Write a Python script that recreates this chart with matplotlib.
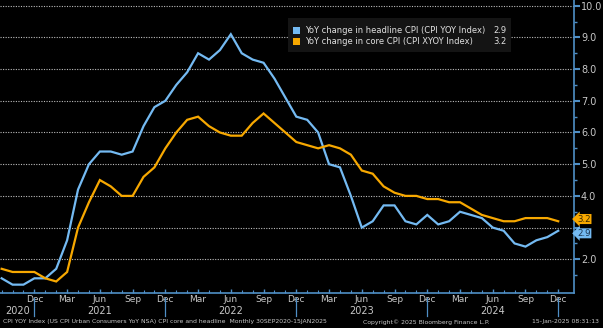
import matplotlib
matplotlib.use('Agg')
import matplotlib.pyplot as plt
import numpy as np
from matplotlib.patches import Rectangle

# monthly YoY CPI, Sep 2020 .. Dec 2024
months = ['Sep', 'Oct', 'Nov', 'Dec'] + ['Jan', 'Feb', 'Mar', 'Apr', 'May', 'Jun',
                                         'Jul', 'Aug', 'Sep', 'Oct', 'Nov', 'Dec'] * 4
headline = [1.4, 1.2, 1.2, 1.4,
            1.4, 1.7, 2.6, 4.2, 5.0, 5.4, 5.4, 5.3, 5.4, 6.2, 6.8, 7.0,
            7.5, 7.9, 8.5, 8.3, 8.6, 9.1, 8.5, 8.3, 8.2, 7.7, 7.1, 6.5,
            6.4, 6.0, 5.0, 4.9, 4.0, 3.0, 3.2, 3.7, 3.7, 3.2, 3.1, 3.4,
            3.1, 3.2, 3.5, 3.4, 3.3, 3.0, 2.9, 2.5, 2.4, 2.6, 2.7, 2.9]
core = [1.7, 1.6, 1.6, 1.6,
        1.4, 1.3, 1.6, 3.0, 3.8, 4.5, 4.3, 4.0, 4.0, 4.6, 4.9, 5.5,
        6.0, 6.4, 6.5, 6.2, 6.0, 5.9, 5.9, 6.3, 6.6, 6.3, 6.0, 5.7,
        5.6, 5.5, 5.6, 5.5, 5.3, 4.8, 4.7, 4.3, 4.1, 4.0, 4.0, 3.9,
        3.9, 3.8, 3.8, 3.6, 3.4, 3.3, 3.2, 3.2, 3.3, 3.3, 3.3, 3.2]
years = ['2020', '2021', '2022', '2023', '2024']
year_pos = [1.5, 9, 21, 33, 45]
labels = ['YoY change in headline CPI (CPI YOY Index)', 'YoY change in core CPI (CPI XYOY Index)']

blue = '#74baf2'
orange = '#f7a800'
axis_col = '#4f8fc6'
txt_col = '#c8c8c8'

x = np.arange(len(headline))

fig = plt.figure(figsize=(6.03, 3.28), dpi=100, facecolor='black')
ax = fig.add_axes([0.0, 0.108, 0.952, 0.892], facecolor='black')

ax.plot(x, headline, color=blue, lw=1.6, solid_joinstyle='miter')
ax.plot(x, core, color=orange, lw=1.6, solid_joinstyle='miter')

ax.set_xlim(-0.15, 52.45)
ax.set_ylim(0.95, 10.18)

# grid
for v in range(2, 11):
    ax.axhline(v, color='#bdbdbd', lw=0.8, ls=(0, (1, 1.3)), zorder=0)

# axes styling
for s in ['top', 'left']:
    ax.spines[s].set_visible(False)
ax.spines['right'].set_color(axis_col)
ax.spines['bottom'].set_color(axis_col)
ax.spines['right'].set_linewidth(1.2)
ax.spines['bottom'].set_linewidth(1.2)

ax.yaxis.tick_right()
ax.set_yticks(range(2, 11))
# 3.0 sits under the last-value tags, so leave it blank
ax.set_yticklabels(['' if v == 3 else f'{v:.1f}' for v in range(2, 11)])
ax.set_yticks(np.arange(1.5, 10.1, 0.5), minor=True)
ax.tick_params(axis='y', which='major', colors=axis_col, labelcolor=txt_col,
               length=4, width=1.5, labelsize=7, pad=1)
ax.tick_params(axis='y', which='minor', colors=axis_col, length=2, width=1)

qpos = [i for i, m in enumerate(months) if m in ('Dec', 'Mar', 'Jun', 'Sep') and i > 0]
ax.set_xticks(qpos)
ax.set_xticklabels([months[i] for i in qpos])
ax.set_xticks(x, minor=True)
ax.tick_params(axis='x', which='major', direction='in', colors=axis_col, labelcolor=txt_col,
               length=3, width=1, labelsize=6.5, pad=1.5)
ax.tick_params(axis='x', which='minor', direction='in', colors=axis_col, length=2, width=0.8)

# year row and separators
for yr, p in zip(years, year_pos):
    ax.text(p, -0.062, yr, transform=ax.get_xaxis_transform(), ha='center', va='center',
            color=txt_col, fontsize=7)
for i, m in enumerate(months):
    if m == 'Dec':
        ax.plot([i, i], [-0.02, -0.08], transform=ax.get_xaxis_transform(),
                color=axis_col, lw=0.9, clip_on=False)

# last value tags (nudged apart so they don't collide)
ax.text(52.75, core[-1] + 0.07, f'{core[-1]:.1f}', color='#3a2a00', fontsize=6.2, va='center',
        ha='left', bbox=dict(boxstyle='larrow,pad=0.06', fc=orange, ec='none'))
ax.text(52.75, headline[-1] - 0.08, f'{headline[-1]:.1f}', color='#1c3550', fontsize=6.2, va='center',
        ha='left', bbox=dict(boxstyle='larrow,pad=0.06', fc=blue, ec='none'))

# legend box
W, H = 603.0, 328.0
fig.patches.append(Rectangle((288 / W, 1 - 52 / H), 223 / W, 34 / H, transform=fig.transFigure,
                             fc='#141414', ec='none'))
for k, (lab, val, col) in enumerate(zip(labels, [headline[-1], core[-1]], [blue, orange])):
    yy = 1 - (30.5 + 11 * k) / H
    fig.patches.append(Rectangle((293 / W, yy - 3.5 / H), 7 / W, 7 / H, transform=fig.transFigure,
                                 fc=col, ec='none'))
    fig.text(305 / W, yy, lab, color='#e0e0e0', fontsize=6.0, va='center', ha='left')
    fig.text(507 / W, yy, f'{val:.1f}', color='#e0e0e0', fontsize=6.0, va='center', ha='right')

# footer
fig.text(3 / W, 1 - 322 / H, 'CPI YOY Index (US CPI Urban Consumers YoY NSA) CPI core and headline  Monthly 30SEP2020-15JAN2025',
         color=txt_col, fontsize=4.4, va='center', ha='left')
fig.text(426 / W, 1 - 322 / H, 'Copyright\u00a9 2025 Bloomberg Finance L.P.',
         color=txt_col, fontsize=4.4, va='center', ha='center')
fig.text(599 / W, 1 - 322 / H, '15-Jan-2025 08:31:13',
         color=txt_col, fontsize=4.4, va='center', ha='right')

plt.savefig('out.png', dpi=100, facecolor='black')
